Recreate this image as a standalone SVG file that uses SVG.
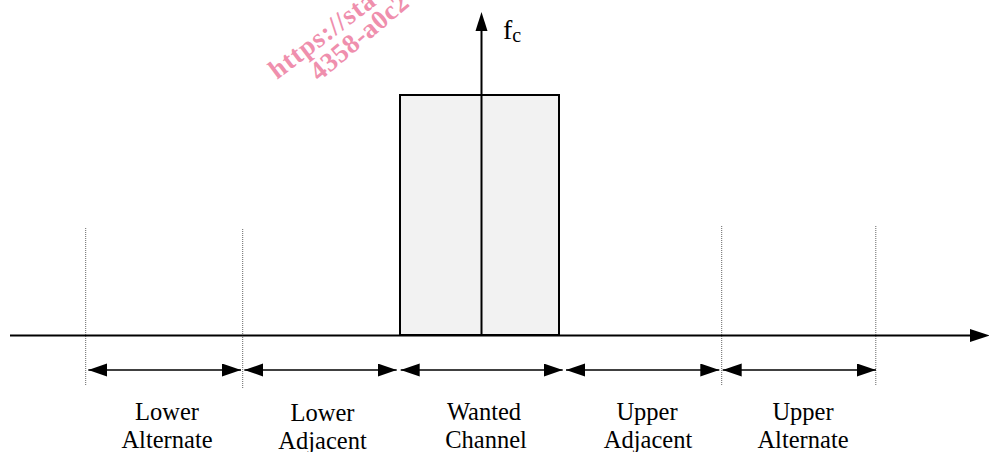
<svg xmlns="http://www.w3.org/2000/svg" width="989" height="452" viewBox="0 0 989 452">
<style>
.lbl{font-family:"Liberation Serif","Times New Roman",serif;font-size:24.5px;fill:#000;text-anchor:middle}
.dim{stroke:#000;stroke-width:1.6;fill:none;marker-start:url(#ah);marker-end:url(#ah)}
.dot{stroke:#666;stroke-width:1;stroke-dasharray:1 1;fill:none}
.wm{font-family:"Liberation Serif","Times New Roman",serif;font-weight:bold;font-size:27px;fill:#ef8fad}
</style>
<defs>
<marker id="ah" markerUnits="userSpaceOnUse" markerWidth="20" markerHeight="14" refX="19" refY="6.5" orient="auto-start-reverse">
<path d="M0,0 L19,6.5 L0,13 Z" fill="#000"/>
</marker>
</defs>
<rect width="989" height="452" fill="#fff"/>
<g id="watermark">
<text class="wm" letter-spacing="1" transform="translate(277,80) rotate(-37)">https://sta</text>
<text class="wm" letter-spacing="0.5" transform="translate(319,82) rotate(-40)">4358-a0c2</text>
</g>
<g id="guides">
<line class="dot" x1="85.7" y1="228" x2="85.7" y2="386"/>
<line class="dot" x1="242.7" y1="229" x2="242.7" y2="388"/>
<line class="dot" x1="721.7" y1="226" x2="721.7" y2="385"/>
<line class="dot" x1="875.8" y1="226" x2="875.8" y2="385"/>
</g>
<g id="wanted-channel-block">
<rect x="400" y="95" width="159" height="240" fill="#f2f2f2" stroke="#000" stroke-width="2"/>
</g>
<g id="frequency-axis">
<line x1="10" y1="335.5" x2="972" y2="335.5" stroke="#000" stroke-width="2"/>
<path d="M970,329 L990,335.5 L970,342 Z" fill="#000"/>
</g>
<g id="fc-axis">
<line x1="481.5" y1="335" x2="481.5" y2="30" stroke="#000" stroke-width="2"/>
<path d="M475.5,31 L481.5,12 L487.5,31 Z" fill="#000"/>
<text x="503" y="39" font-family="Liberation Serif,Times New Roman,serif" font-size="28">f<tspan font-size="20" dy="3">c</tspan></text>
</g>
<g id="connectors">
<line class="dim" x1="88.3" y1="370" x2="241" y2="370"/>
<line class="dim" x1="244.3" y1="370" x2="396.7" y2="370"/>
<line class="dim" x1="400.7" y1="370" x2="562.7" y2="370"/>
<line class="dim" x1="566" y1="370" x2="719.3" y2="370"/>
<line class="dim" x1="722.7" y1="370" x2="876" y2="370"/>
</g>
<g id="lower-alternate">
<text class="lbl" x="167" y="419.5">Lower</text>
<text class="lbl" x="167" y="447.5">Alternate</text>
</g>
<g id="lower-adjacent">
<text class="lbl" x="322.5" y="421">Lower</text>
<text class="lbl" x="322.5" y="449">Adjacent</text>
</g>
<g id="wanted-channel">
<text class="lbl" x="484" y="419.5">Wanted</text>
<text class="lbl" x="486" y="447.5">Channel</text>
</g>
<g id="upper-adjacent">
<text class="lbl" x="647" y="419.5">Upper</text>
<text class="lbl" x="648" y="447.5">Adjacent</text>
</g>
<g id="upper-alternate">
<text class="lbl" x="803" y="419.5">Upper</text>
<text class="lbl" x="803" y="447.5">Alternate</text>
</g>
</svg>
